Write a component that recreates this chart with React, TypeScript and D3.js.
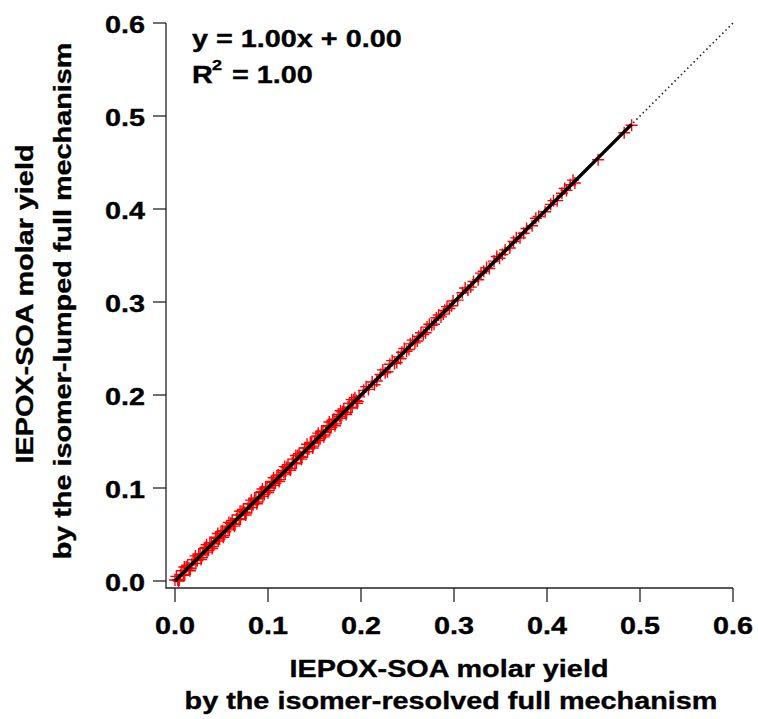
import React from "react";
import * as d3 from "d3";

const xValues = [
  0.000, 0.003, 0.006, 0.009, 0.012, 0.015, 0.018, 0.021, 0.024, 0.027,
  0.030, 0.033, 0.036, 0.039, 0.042, 0.045, 0.048, 0.051, 0.054, 0.057,
  0.060, 0.063, 0.066, 0.069, 0.072, 0.075, 0.078, 0.081, 0.084, 0.087,
  0.090, 0.093, 0.096, 0.099, 0.102, 0.105, 0.108, 0.111, 0.114, 0.117,
  0.120, 0.123, 0.126, 0.129, 0.132, 0.135, 0.138, 0.141, 0.144, 0.147,
  0.150, 0.153, 0.156, 0.159, 0.162, 0.165, 0.168, 0.171, 0.174, 0.177,
  0.180, 0.183, 0.186, 0.189, 0.192, 0.195, 0.198,
  0.203, 0.208, 0.212, 0.217, 0.221, 0.226, 0.231, 0.236, 0.240, 0.244,
  0.249, 0.253, 0.258, 0.262, 0.267, 0.271, 0.276, 0.281, 0.286, 0.290,
  0.295, 0.299,
  0.304, 0.309, 0.315, 0.321, 0.326, 0.332, 0.338, 0.343, 0.349, 0.355,
  0.360, 0.364, 0.371, 0.378, 0.384, 0.391, 0.398, 0.404, 0.411, 0.416,
  0.421, 0.425, 0.430, 0.455, 0.483, 0.491,
];

const yValues = [
  0.001, 0.001, 0.007, 0.006, 0.015, 0.014, 0.018, 0.023, 0.022, 0.028,
  0.029, 0.036, 0.033, 0.041, 0.040, 0.046, 0.045, 0.054, 0.053, 0.057,
  0.062, 0.061, 0.067, 0.066, 0.075, 0.074, 0.078, 0.083, 0.082, 0.088,
  0.089, 0.096, 0.093, 0.101, 0.100, 0.106, 0.105, 0.114, 0.113, 0.117,
  0.122, 0.121, 0.127, 0.126, 0.135, 0.134, 0.138, 0.143, 0.142, 0.148,
  0.149, 0.156, 0.153, 0.161, 0.160, 0.166, 0.165, 0.174, 0.173, 0.177,
  0.182, 0.181, 0.187, 0.186, 0.195, 0.194, 0.198,
  0.205, 0.206, 0.214, 0.215, 0.222, 0.224, 0.233, 0.234, 0.241, 0.246,
  0.247, 0.255, 0.256, 0.263, 0.265, 0.273, 0.275, 0.283, 0.284, 0.291,
  0.293, 0.301,
  0.302, 0.310, 0.313, 0.322, 0.324, 0.333, 0.336, 0.344, 0.347, 0.356,
  0.358, 0.365, 0.369, 0.379, 0.382, 0.392, 0.397, 0.405, 0.409, 0.417,
  0.420, 0.426, 0.428, 0.453, 0.482, 0.490,
];

// additional scattered runs along the dense part of the band
const xValuesB = [
  0.0015, 0.0045, 0.0075, 0.0105, 0.0135, 0.0165, 0.0195, 0.0225, 0.0255, 0.0285,
  0.0315, 0.0345, 0.0375, 0.0405, 0.0435, 0.0465, 0.0495, 0.0525, 0.0555, 0.0585,
  0.0615, 0.0645, 0.0675, 0.0705, 0.0735, 0.0765, 0.0795, 0.0825, 0.0855, 0.0885,
  0.0915, 0.0945, 0.0975, 0.1005, 0.1035, 0.1065, 0.1095, 0.1125, 0.1155, 0.1185,
  0.1215, 0.1245, 0.1275, 0.1305, 0.1335, 0.1365, 0.1395, 0.1425, 0.1455, 0.1485,
  0.1515, 0.1545, 0.1575, 0.1605, 0.1635, 0.1665, 0.1695, 0.1725, 0.1755, 0.1785,
  0.1815, 0.1845, 0.1875, 0.1905, 0.1935, 0.1965,
  0.2055, 0.2145, 0.2235, 0.2285, 0.2335, 0.2385, 0.2425, 0.2465, 0.2515, 0.2555,
  0.2605, 0.2645, 0.2695, 0.2735, 0.2785, 0.2835, 0.2885, 0.2925, 0.2975,
  0.312, 0.318, 0.329, 0.335, 0.346, 0.352, 0.367, 0.375, 0.388, 0.407,
  0.419, 0.428,
];

const yValuesB = [
  0.005, 0.001, 0.011, 0.007, 0.017, 0.013, 0.023, 0.019, 0.029, 0.025,
  0.035, 0.031, 0.041, 0.037, 0.047, 0.043, 0.053, 0.049, 0.059, 0.055,
  0.065, 0.061, 0.071, 0.067, 0.077, 0.073, 0.083, 0.079, 0.089, 0.085,
  0.095, 0.091, 0.101, 0.097, 0.107, 0.103, 0.113, 0.109, 0.119, 0.115,
  0.125, 0.121, 0.131, 0.127, 0.137, 0.133, 0.143, 0.139, 0.149, 0.145,
  0.155, 0.151, 0.161, 0.157, 0.167, 0.163, 0.173, 0.169, 0.179, 0.175,
  0.185, 0.181, 0.191, 0.187, 0.197, 0.193,
  0.209, 0.211, 0.227, 0.225, 0.237, 0.235, 0.239, 0.250, 0.249, 0.259,
  0.258, 0.267, 0.267, 0.276, 0.276, 0.286, 0.287, 0.295, 0.296,
  0.315, 0.316, 0.331, 0.337, 0.349, 0.351, 0.369, 0.374, 0.390, 0.409,
  0.422, 0.431,
];

// outer edge of the dense band below 0.2
const xValuesC = [
  0.004, 0.010, 0.016, 0.022, 0.028, 0.034, 0.040, 0.046, 0.052, 0.058,
  0.064, 0.070, 0.076, 0.082, 0.088, 0.094, 0.100, 0.106, 0.112, 0.118,
  0.124, 0.130, 0.136, 0.142, 0.148, 0.154, 0.160, 0.166, 0.172, 0.178,
  0.184, 0.190, 0.196,
];

const yValuesC = [
  0.000, 0.015, 0.011, 0.027, 0.023, 0.039, 0.035, 0.051, 0.047, 0.063,
  0.059, 0.075, 0.071, 0.087, 0.083, 0.099, 0.095, 0.111, 0.107, 0.123,
  0.119, 0.135, 0.131, 0.147, 0.143, 0.159, 0.155, 0.171, 0.167, 0.183,
  0.179, 0.195, 0.191,
];

const fitSlope = 1.0;
const fitIntercept = 0.0;
const fitRange = [0, 0.491];
const oneToOneRange = [0, 0.6];
const tickValues = [0, 0.1, 0.2, 0.3, 0.4, 0.5, 0.6];
const xTitle = ["IEPOX-SOA molar yield", "by the isomer-resolved full mechanism"];
const yTitle = ["IEPOX-SOA molar yield", "by the isomer-lumped full mechanism"];

const FONT = "'Liberation Sans', Arial, sans-serif";
const FS = 24;
const SX = 1.2;

function T({ x, y, anchor = "start", rotate = 0, size = FS, children }: any) {
  return (
    <g transform={`translate(${x},${y}) rotate(${rotate}) scale(${SX},1)`}>
      <text
        x={0}
        y={0}
        textAnchor={anchor}
        fontFamily={FONT}
        fontWeight="bold"
        fontSize={size}
        fill="#000"
        stroke="#000"
        strokeWidth={0.35}
      >
        {children}
      </text>
    </g>
  );
}

export default function App() {
  const xScale = d3.scaleLinear().domain([0, 0.6]).range([175, 733]);
  const yScale = d3.scaleLinear().domain([0, 0.6]).range([581, 23]);
  const axisX = 166;
  const axisY = 588;
  const tickLen = 13;
  const line = d3
    .line<number>()
    .x((d) => xScale(d))
    .y((d) => yScale(fitSlope * d + fitIntercept));
  const oneLine = d3
    .line<number>()
    .x((d) => xScale(d))
    .y((d) => yScale(d));
  const m = 6;
  const axisColor = "#222";

  const pts = [
    ...xValues.map((x, i) => [x, yValues[i]]),
    ...xValuesB.map((x, i) => [x, yValuesB[i]]),
    ...xValuesC.map((x, i) => [x, yValuesC[i]]),
  ];

  return (
    <svg
      width={758}
      height={719}
      style={{ position: "absolute", left: 0, top: 0, background: "#fff" }}
    >
      <rect x={0} y={0} width={758} height={719} fill="#fff" />
      {/* 1:1 dotted line */}
      <path
        d={oneLine(oneToOneRange) || ""}
        stroke="#222"
        strokeWidth={1.6}
        strokeDasharray="1.5,3"
        fill="none"
      />
      {/* markers */}
      <g stroke="#ff0000" strokeWidth={1.4}>
        {pts.map(([xv, yv], i) => {
          const cx = xScale(xv);
          const cy = yScale(yv);
          return (
            <path
              key={i}
              d={`M${cx - m},${cy}H${cx + m}M${cx},${cy - m}V${cy + m}`}
            />
          );
        })}
      </g>
      {/* fit line */}
      <path d={line(fitRange) || ""} stroke="#000" strokeWidth={3.5} fill="none" />
      {/* axes */}
      <g stroke={axisColor} strokeWidth={1.3} fill="none">
        <path d={`M${axisX},${yScale(0.6)}V${axisY}H${xScale(0.6)}`} />
        {tickValues.map((t) => (
          <path key={"yt" + t} d={`M${axisX - tickLen},${yScale(t)}H${axisX}`} />
        ))}
        {tickValues.map((t) => (
          <path key={"xt" + t} d={`M${xScale(t)},${axisY}V${axisY + tickLen + 1}`} />
        ))}
      </g>
      {tickValues.map((t) => (
        <T key={"yl" + t} x={145} y={yScale(t) + 9.5} anchor="end">
          {d3.format(".1f")(t)}
        </T>
      ))}
      {tickValues.map((t) => (
        <T key={"xl" + t} x={xScale(t)} y={634} anchor="middle">
          {d3.format(".1f")(t)}
        </T>
      ))}
      {/* titles */}
      <T x={449} y={677} anchor="middle">{xTitle[0]}</T>
      <T x={451} y={709} anchor="middle">{xTitle[1]}</T>
      <T x={33} y={304} anchor="middle" rotate={-90}>{yTitle[0]}</T>
      <T x={71} y={301} anchor="middle" rotate={-90}>{yTitle[1]}</T>
      {/* annotation */}
      <T x={192} y={47}>{`y = ${fitSlope.toFixed(2)}x + ${fitIntercept.toFixed(2)}`}</T>
      <T x={192} y={83}>R</T>
      <T x={212} y={70} size={15}>2</T>
      <T x={232} y={83}>= 1.00</T>
    </svg>
  );
}
